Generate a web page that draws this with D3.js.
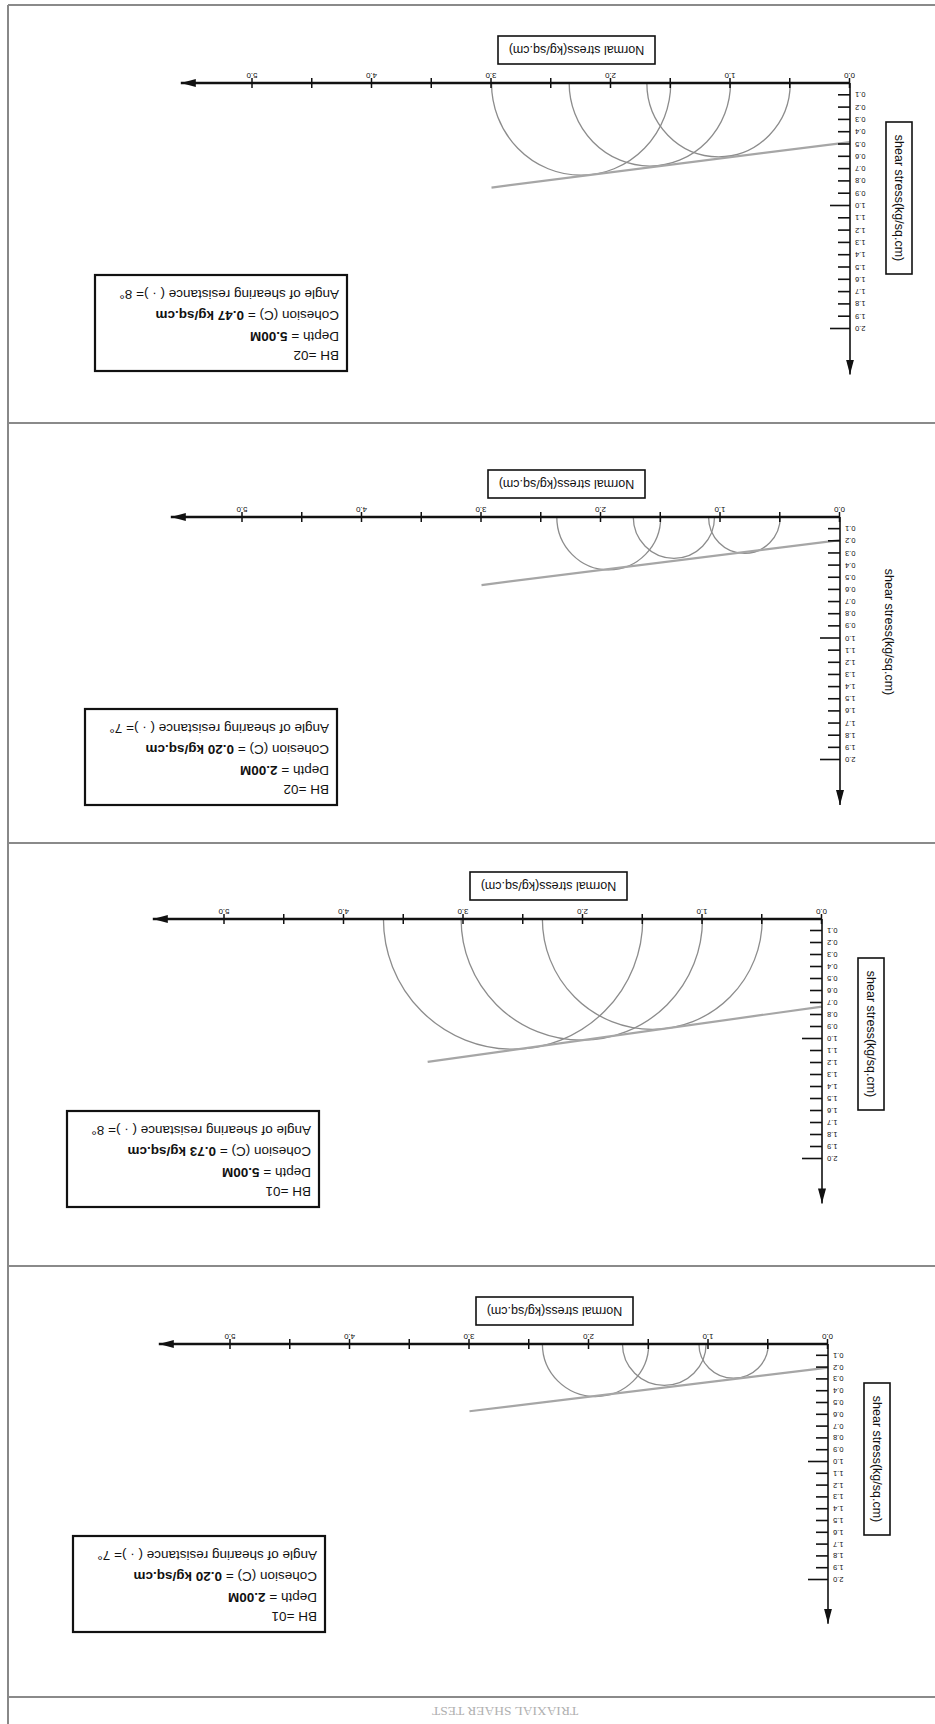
<!DOCTYPE html>
<html>
<head>
<meta charset="utf-8">
<script src="https://cdn.jsdelivr.net/npm/d3@7"></script>
<style>
  body { margin: 0; background: #fff; }
  svg { display: block; font-family: "Liberation Sans", Arial, sans-serif; }
</style>
</head>
<body>
<svg id="sheet" width="935" height="1724"></svg>
<script>
// values, in the order of the upright page (top to bottom)
const boreholes = ['BH =01', 'BH =01', 'BH =02', 'BH =02'];
const depths = ['2.00M', '5.00M', '2.00M', '5.00M'];
const cohesions = ['0.20', '0.73', '0.20', '0.47'];
const frictionAngles = [7, 8, 7, 8];

// confining (sigma3) and major (sigma1) stresses, kg/sq.cm
const sigma3 = [
  [0.5, 1.02, 1.5],
  [0.5, 1.0, 1.5],
  [0.5, 1.05, 1.5],
  [0.5, 1.0, 1.5]
];
const sigma1 = [
  [1.08, 1.72, 2.39],
  [2.34, 3.02, 3.67],
  [1.1, 1.73, 2.37],
  [1.7, 2.35, 3.0]
];

// failure envelope end points [normal, shear]
const envelopes = [
  [[0, 0.2], [3.0, 0.57]],
  [[0, 0.73], [3.3, 1.19]],
  [[0, 0.19], [3.0, 0.56]],
  [[0, 0.48], [3.0, 0.85]]
];

const normalTicks = [0, 0.5, 1.0, 1.5, 2.0, 2.5, 3.0, 3.5, 4.0, 4.5, 5.0];
const normalLabels = [0, 1.0, 2.0, 3.0, 4.0, 5.0];
const shearTicks = [0.1, 0.2, 0.3, 0.4, 0.5, 0.6, 0.7, 0.8, 0.9, 1.0,
  1.1, 1.2, 1.3, 1.4, 1.5, 1.6, 1.7, 1.8, 1.9, 2.0];
const shearMajor = [1.0, 2.0];

const titleText = 'TRIAXIAL SHAER TEST';
const normalTitle = 'Normal stress(kg/sq.cm)';
const shearTitle = 'shear stress(kg/sq.cm)';

// page geometry (upright page, before the 180 degree turn of the scan)
const W = 935;
const H = 1724;
const kx = 119.5;
const xEnd = 5.6;
const yEnd = 2.37;
const layout = [
  { ox: 107, oy: 380, ky: 118, boxed: true },
  { ox: 113, oy: 805, ky: 120, boxed: true },
  { ox: 95, oy: 1207, ky: 121.5, boxed: false },
  { ox: 85, oy: 1641, ky: 123, boxed: true }
];
const separators = [27, 458, 881, 1301, 1719];

const svg = d3.select('#sheet');

svg.append('defs')
  .append('marker')
  .attr('id', 'arrow')
  .attr('viewBox', '0 0 15 8')
  .attr('refX', 15)
  .attr('refY', 4)
  .attr('markerUnits', 'userSpaceOnUse')
  .attr('markerWidth', 15)
  .attr('markerHeight', 8)
  .attr('orient', 'auto')
  .append('path')
  .attr('d', 'M0,0L15,4L0,8Z')
  .attr('fill', '#111');

// the scan is upside down
const page = svg.append('g').attr('transform', `rotate(180 ${W / 2} ${H / 2})`);

page.append('line')
  .attr('x1', 927).attr('x2', 927)
  .attr('y1', 0).attr('y2', 1719)
  .attr('stroke', '#888')
  .attr('stroke-width', 2);

page.selectAll('.sep')
  .data(separators)
  .join('line')
  .attr('class', 'sep')
  .attr('x1', 0).attr('x2', 927)
  .attr('y1', d => d).attr('y2', d => d)
  .attr('stroke', '#8a8a8a')
  .attr('stroke-width', 2);

page.append('text')
  .attr('x', 430)
  .attr('y', 17)
  .attr('text-anchor', 'middle')
  .attr('font-family', '"Liberation Serif", "Times New Roman", serif')
  .attr('font-size', 13.5)
  .attr('fill', '#b0b0b0')
  .text(titleText);

const fmt = d3.format('.1f');

layout.forEach((L, i) => {
  const { ox, oy, ky } = L;
  const x = d3.scaleLinear().domain([0, xEnd]).range([ox, ox + xEnd * kx]);
  const y = d3.scaleLinear().domain([0, yEnd]).range([oy, oy - yEnd * ky]);
  const g = page.append('g').attr('class', `panel panel-${i}`);

  // mohr circles
  const circles = sigma3[i].map((s3, j) => ({ s3, s1: sigma1[i][j] }));
  g.selectAll('.mohr')
    .data(circles)
    .join('path')
    .attr('class', 'mohr')
    .attr('fill', 'none')
    .attr('stroke', '#8c8c8c')
    .attr('stroke-width', 1.3)
    .attr('d', d => {
      const r = (d.s1 - d.s3) / 2;
      const rx = x(r) - x(0);
      const ry = y(0) - y(r);
      return `M${x(d.s3)},${y(0)}A${rx},${ry} 0 0 1 ${x(d.s1)},${y(0)}`;
    });

  // failure envelope
  const env = d3.line().x(d => x(d[0])).y(d => y(d[1]));
  g.append('path')
    .attr('d', env(envelopes[i]))
    .attr('fill', 'none')
    .attr('stroke', '#a6a6a6')
    .attr('stroke-width', 2.2);

  // normal stress axis
  const axisX = d3.axisBottom(x)
    .tickValues(normalTicks)
    .tickFormat(d => (normalLabels.includes(d) ? fmt(d) : ''));
  const gx = g.append('g')
    .attr('class', 'axis axis-x')
    .attr('transform', `translate(0,${oy})`)
    .call(axisX);
  gx.select('.domain').remove();
  gx.selectAll('.tick line')
    .attr('y1', -5).attr('y2', 5)
    .attr('stroke', '#111')
    .attr('stroke-width', 1.5);
  gx.selectAll('.tick text')
    .attr('y', 4)
    .attr('font-size', 8)
    .attr('fill', '#111');

  g.append('line')
    .attr('x1', x(0)).attr('x2', x(xEnd))
    .attr('y1', oy).attr('y2', oy)
    .attr('stroke', '#111')
    .attr('stroke-width', 2.5)
    .attr('marker-end', 'url(#arrow)');

  // shear stress axis
  const axisY = d3.axisLeft(y)
    .tickValues(shearTicks)
    .tickFormat(fmt)
    .tickSize(-12)
    .tickPadding(5);
  const gy = g.append('g')
    .attr('class', 'axis axis-y')
    .attr('transform', `translate(${ox},0)`)
    .call(axisY);
  gy.select('.domain').remove();
  gy.selectAll('.tick line')
    .attr('x2', d => (shearMajor.includes(d) ? 20 : 12))
    .attr('stroke', '#111')
    .attr('stroke-width', 1.6);
  gy.selectAll('.tick text')
    .attr('font-size', 7.5)
    .attr('fill', '#111');

  g.append('line')
    .attr('x1', ox).attr('x2', ox)
    .attr('y1', y(0)).attr('y2', y(yEnd))
    .attr('stroke', '#111')
    .attr('stroke-width', 1.6)
    .attr('marker-end', 'url(#arrow)');

  // axis titles
  g.append('rect')
    .attr('x', ox + 195).attr('y', oy + 19)
    .attr('width', 157).attr('height', 28)
    .attr('fill', 'none')
    .attr('stroke', '#111')
    .attr('stroke-width', 1.6);
  g.append('text')
    .attr('x', ox + 273.5).attr('y', oy + 37)
    .attr('text-anchor', 'middle')
    .attr('font-size', 12.5)
    .attr('fill', '#111')
    .text(normalTitle);

  if (L.boxed) {
    g.append('rect')
      .attr('x', ox - 62).attr('y', oy - 191)
      .attr('width', 26).attr('height', 152)
      .attr('fill', 'none')
      .attr('stroke', '#111')
      .attr('stroke-width', 1.6);
  }
  g.append('text')
    .attr('transform', `translate(${ox - 45},${oy - 115}) rotate(-90)`)
    .attr('text-anchor', 'middle')
    .attr('font-size', 12.5)
    .attr('fill', '#111')
    .text(shearTitle);

  // test summary box
  const bx = ox + 503;
  const by = oy - 288;
  g.append('rect')
    .attr('x', bx).attr('y', by)
    .attr('width', 252).attr('height', 96)
    .attr('fill', 'none')
    .attr('stroke', '#111')
    .attr('stroke-width', 2.2);

  const info = g.append('g')
    .attr('font-size', 13.5)
    .attr('fill', '#111');
  info.append('text')
    .attr('x', bx + 8).attr('y', by + 20)
    .text(boreholes[i]);
  const dep = info.append('text').attr('x', bx + 8).attr('y', by + 39);
  dep.append('tspan').text('Depth = ');
  dep.append('tspan').attr('font-weight', 'bold').text(depths[i]);
  const coh = info.append('text').attr('x', bx + 8).attr('y', by + 60);
  coh.append('tspan').text('Cohesion (C) = ');
  coh.append('tspan').attr('font-weight', 'bold').text(`${cohesions[i]} kg/sq.cm`);
  info.append('text')
    .attr('x', bx + 8).attr('y', by + 81)
    .text(`Angle of shearing resistance ( \u00b7 )= ${frictionAngles[i]}\u00b0`);
});
</script>
</body>
</html>
